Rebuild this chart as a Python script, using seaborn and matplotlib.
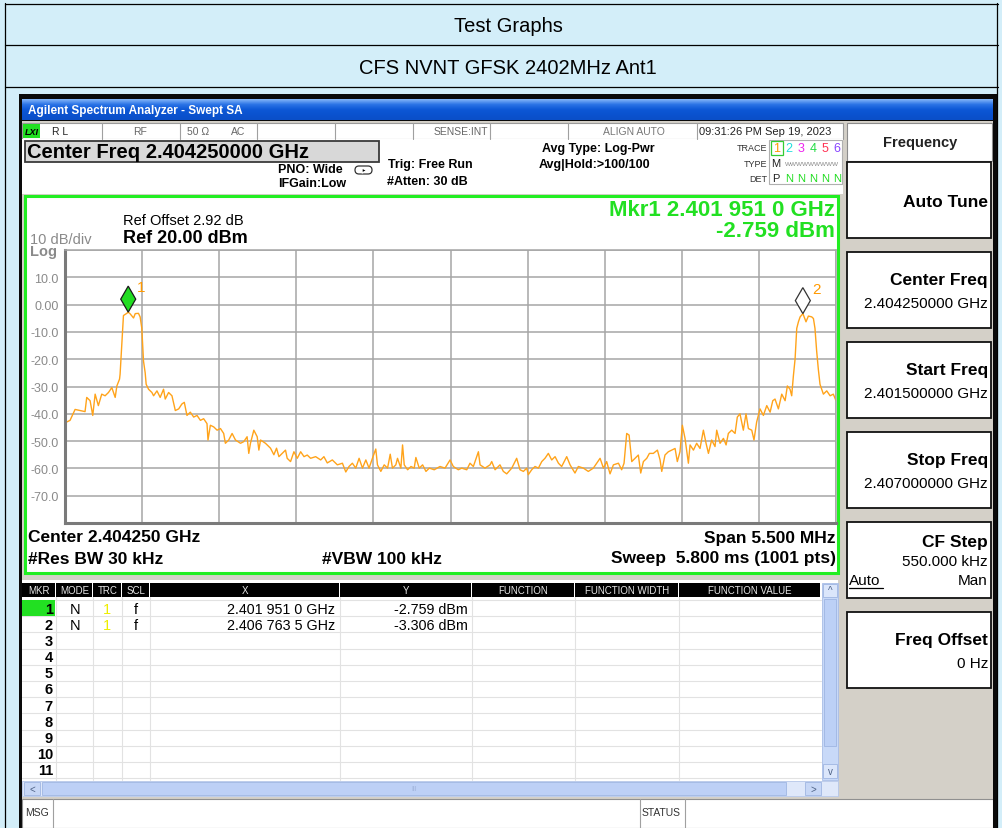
import numpy as np
import matplotlib
matplotlib.use("Agg")
import matplotlib.pyplot as plt
import seaborn as sns
from matplotlib.patches import Rectangle, Polygon, FancyBboxPatch
from matplotlib.colors import LinearSegmentedColormap
from matplotlib.transforms import IdentityTransform

# sweep settings
start_ghz = 2.4015
stop_ghz = 2.407
n_div = 10

# trace 1: offset from start freq (kHz) and level (dBm)
trace_khz = [0, 12, 36, 72, 107, 143, 155, 179, 198, 215, 238, 262, 286, 310, 334, 358, 370, 389,
             393, 405, 417, 441, 451, 465, 489, 501, 524, 536, 548, 560, 572,
             579, 596, 620, 632, 656, 679, 703, 715, 739, 763, 787, 811, 834, 851, 870, 894, 918,
             942, 966, 989, 1013, 1020, 1037, 1061, 1085, 1109, 1132, 1144, 1168, 1192, 1216,
             1252, 1275, 1299, 1311, 1323, 1347, 1371, 1383, 1395, 1430, 1466, 1490, 1509, 1526,
             1550, 1573, 1585, 1609, 1633, 1657, 1681, 1705, 1728, 1752, 1788, 1824, 1847, 1871,
             1907, 1943, 1979, 2003, 2026, 2050, 2074, 2098, 2122, 2146, 2169, 2193, 2217, 2229,
             2253, 2277, 2301, 2320, 2336, 2360, 2372, 2396, 2408, 2420, 2444, 2468, 2491, 2503,
             2527, 2551, 2575, 2599, 2634, 2675, 2711, 2747, 2770, 2806, 2830, 2866, 2889, 2913,
             2949, 2961, 2996, 3032, 3044, 3068, 3103, 3127, 3151, 3187, 3222, 3246, 3270, 3294,
             3305, 3329, 3353, 3377, 3401, 3424, 3448, 3472, 3496, 3520, 3543, 3579, 3603, 3638,
             3662, 3698, 3733, 3769, 3793, 3817, 3841, 3864, 3888, 3912, 3948, 3971, 3988, 4007,
             4024, 4043, 4066, 4090, 4107, 4126, 4150, 4169, 4197, 4226, 4245, 4257, 4280, 4304,
             4328, 4352, 4368, 4387, 4404, 4423, 4447, 4459, 4483, 4506, 4530, 4554, 4573, 4590,
             4613, 4637, 4649, 4673, 4697, 4716, 4732, 4756, 4780, 4796, 4815, 4839, 4858, 4875,
             4899, 4915, 4934, 4958, 4982, 5006, 5030, 5049, 5065, 5089, 5113, 5137, 5153, 5172,
             5184, 5196, 5208, 5220, 5232, 5244, 5264, 5286, 5303, 5327, 5339, 5350, 5362, 5374,
             5386, 5410, 5434, 5458, 5481, 5500]
trace_dbm = [-41.2, -43.0, -42.4, -38.4, -38.8, -39.2, -34.0, -35.2, -40.6, -32.8, -37.0, -32.8, -33.4, -32.2, -30.4, -34.0, -29.8, -27.3,
             -25.5, -15.0, -4.0, -3.2, -2.76, -3.4, -4.9, -3.3, -3.2, -4.5, -8.7, -20.7, -25.0,
             -29.2, -31.0, -32.2, -33.4, -31.6, -34.0, -31.0, -34.6, -32.2, -33.4, -38.8, -38.2, -36.4, -35.8, -40.6, -39.4, -41.2,
             -40.6, -42.4, -41.8, -43.6, -49.6, -44.2, -44.8, -46.0, -45.4, -47.2, -50.8, -49.6, -47.2, -49.6,
             -50.8, -50.2, -48.4, -54.5, -50.8, -46.0, -48.4, -53.3, -49.6, -50.8, -52.6, -55.0, -52.6, -55.7,
             -54.5, -53.3, -56.3, -57.5, -53.9, -56.3, -53.9, -55.7, -55.1, -56.3, -55.7, -56.9, -55.7, -58.0,
             -56.9, -58.7, -58.1, -61.3, -59.3, -58.1, -59.9, -56.3, -59.9, -56.9, -59.9, -56.3, -52.9, -58.7,
             -61.1, -58.7, -59.9, -54.8, -59.9, -58.7, -56.3, -59.9, -51.4, -58.7, -60.5, -59.3, -59.9, -56.0,
             -59.9, -58.7, -61.1, -59.9, -60.5, -59.3, -59.9, -56.9, -59.3, -60.5, -59.9, -60.5, -58.1, -59.3,
             -53.9, -58.7, -59.9, -58.7, -57.5, -60.5, -58.7, -61.1, -62.0, -59.9, -56.3, -60.5, -61.1, -59.9,
             -62.3, -60.5, -59.3, -59.9, -57.5, -56.3, -54.5, -56.9, -55.7, -58.1, -59.3, -55.7, -58.7, -61.7,
             -59.3, -59.9, -61.1, -59.9, -58.1, -56.3, -59.9, -57.5, -62.0, -58.7, -58.1, -60.5, -58.1, -47.2,
             -47.8, -57.5, -56.3, -55.1, -61.7, -57.5, -56.3, -54.5, -54.5, -53.3, -56.9, -61.1, -55.1, -53.9,
             -53.3, -52.7, -57.5, -53.9, -44.2, -49.0, -58.1, -51.4, -53.3, -50.8, -52.7, -46.0, -50.8, -54.5,
             -49.6, -52.0, -46.0, -50.8, -49.0, -51.4, -47.2, -46.0, -47.2, -41.2, -40.0, -46.0, -40.0, -45.4,
             -46.0, -49.6, -43.0, -38.2, -40.6, -37.0, -39.4, -35.2, -34.6, -38.2, -32.8, -35.2, -29.8, -31.0,
             -33.4, -26.1, -20.0, -8.7, -6.3, -4.5, -3.31, -6.3, -4.2, -4.5, -5.1, -8.7, -17.0, -23.7,
             -29.2, -32.8, -31.6, -33.4, -32.8, -35.2]

# markers
mkr_ghz = [2.4019510, 2.4067635]
mkr_dbm = [-2.759, -3.306]
mkr_x_txt = ["2.401 951 0 GHz", "2.406 763 5 GHz"]
mkr_y_txt = ["-2.759 dBm", "-3.306 dBm"]

y_ticks = [-80, -70, -60, -50, -40, -30, -20, -10, 0, 10, 20]
y_labels = ["", "-70.0", "-60.0", "-50.0", "-40.0", "-30.0", "-20.0", "-10.0", "0.00", "10.0", ""]

tbl_cols = ["MKR", "MODE", "TRC", "SCL", "X", "Y", "FUNCTION", "FUNCTION WIDTH", "FUNCTION VALUE"]
soft_keys = [("Auto Tune", ""), ("Center Freq", "2.404250000 GHz"), ("Start Freq", "2.401500000 GHz"),
             ("Stop Freq", "2.407000000 GHz"), ("CF Step", "550.000 kHz"), ("Freq Offset", "0 Hz")]

sns.set_style("white")
plt.rcParams["font.family"] = ["Liberation Sans", "DejaVu Sans"]

W, H = 1003, 829
fig = plt.figure(figsize=(W / 100, H / 100), dpi=100)
ov = fig.add_axes([0, 0, 1, 1])
ov.set_xlim(0, W)
ov.set_ylim(H, 0)
ov.axis("off")


def box(x0, y0, x1, y1, fc="white", ec="none", lw=1.0, z=1):
    ov.add_patch(Rectangle((x0, y0), x1 - x0, y1 - y0, fc=fc, ec=ec, lw=lw, zorder=z))


def t(x, y, s, size=10, ha="left", bold=False, color="black", z=5, **kw):
    ov.text(x, y, s, fontsize=size, ha=ha, va="center", color=color,
            fontweight="bold" if bold else "normal", zorder=z, **kw)


# page with the html table
box(0, 0, W, H, fc="#d3eef9", z=0)
for yy in [4.5, 46, 88]:
    ov.plot([5, 998], [yy, yy], color="black", lw=0.9, zorder=1)
ov.plot([5.5, 5.5], [4, H], color="black", lw=0.9, zorder=1)
ov.plot([997.5, 997.5], [4, H], color="black", lw=0.9, zorder=1)
t(508, 26, "Test Graphs", 14.5, ha="center")
t(508, 68, "CFS NVNT GFSK 2402MHz Ant1", 14.5, ha="center")

# analyzer window
box(19, 95, 997, H, fc="#0a0a0a", z=1)
grad = np.linspace(0, 1, 24).reshape(-1, 1)
tb = LinearSegmentedColormap.from_list("tb", ["#7fb2f7", "#2a73e6", "#0d58d6", "#0a52cf", "#0b4fc8"])
ov.imshow(grad, cmap=tb, extent=(22, 993, 121, 100), aspect="auto", zorder=2)
ov.set_xlim(0, W)
ov.set_ylim(H, 0)
t(28, 111, "Agilent Spectrum Analyzer - Swept SA", 8.5, bold=True, color="white", z=6)
box(22, 122, 993, H, fc="#d4d0c8", z=2)

# status line
box(22, 124, 843, 140, fc="white", ec="#9a9a9a", lw=0.8, z=3)
for xx in [102, 180, 257, 335, 413, 490, 568, 697]:
    ov.plot([xx, xx], [124, 140], color="#a0a0a0", lw=0.8, zorder=4)
box(23, 125, 40, 139, fc="#22e022", z=4)
t(31.5, 132, "LXI", 6.5, ha="center", bold=True, style="italic")
t(52, 132, "R L", 7.5, color="#222222")
t(133, 132, "RF", 7.5, color="#666666")
t(187, 132, "50 \u03a9", 7.5, color="#666666")
t(231, 132, "AC", 7.5, color="#666666")
t(488, 132, "SENSE:INT", 7.5, ha="right", color="#666666")
t(603, 132, "ALIGN AUTO", 7.5, color="#777777")
t(699, 132, "09:31:26 PM Sep 19, 2023", 8, color="#222222")

# setup header
box(22, 140, 843, 195, fc="white", z=3)
box(25, 142, 379, 163, fc="#d8d8d8", ec="#3a3a3a", lw=1.3, z=4)
t(27, 152, "Center Freq 2.404250000 GHz", 14.5, bold=True)
t(278, 170, "PNO: Wide", 9, bold=True)
t(278, 184, "IFGain:Low", 9, bold=True)
ov.add_patch(FancyBboxPatch((355, 167), 17, 8, boxstyle="round,pad=0,rounding_size=4",
                            fc="white", ec="#333333", lw=0.9, zorder=5))
ov.add_patch(Polygon([[362, 169], [367, 171.5], [362, 174]], closed=True, fc="black", zorder=6))
t(388, 165, "Trig: Free Run", 9, bold=True)
t(387, 182, "#Atten: 30 dB", 9, bold=True)
t(542, 149, "Avg Type: Log-Pwr", 9, bold=True)
t(539, 165, "Avg|Hold:>100/100", 9, bold=True)
t(767, 148, "TRACE", 6.5, ha="right", color="#333333")
t(767, 164, "TYPE", 6.5, ha="right", color="#333333")
t(767, 179, "DET", 6.5, ha="right", color="#333333")
box(769.5, 141, 842, 185, fc="white", ec="#b0b0b0", lw=0.8, z=4)
box(771, 141.5, 783, 156, fc="white", ec="#33cc33", lw=0.9, z=5)
trace_cols = ["#ff9900", "#22dddd", "#ee22ee", "#22dd44", "#ff3355", "#8844ff"]
for i, c in enumerate(trace_cols):
    t(777 + i * 12, 149, str(i + 1), 9, ha="center", color=c, z=6)
t(776, 164, "M", 8, ha="center", color="#222222")
t(812, 164.5, "WWWWWWWWW", 4.6, ha="center", color="#888888")
t(776, 179, "P", 8, ha="center", color="#222222")
for i in range(1, 6):
    t(777 + i * 12, 179, "N", 8, ha="center", color="#22dd22")

# graticule frame
box(25.5, 196.5, 838, 573.5, fc="white", ec="#22ee22", lw=2.2, z=3)
t(123, 221, "Ref Offset 2.92 dB", 10.5)
t(123, 238, "Ref 20.00 dBm", 13, bold=True)
t(30, 240, "10 dB/div", 10.5, color="#8a8a8a")
t(30, 252, "Log", 10.5, color="#8a8a8a", bold=True)
t(835, 210, "Mkr1 2.401 951 0 GHz", 16, ha="right", bold=True, color="#22e022")
t(835, 231, "-2.759 dBm", 16, ha="right", bold=True, color="#22e022")
t(28, 538, "Center 2.404250 GHz", 12.5, bold=True)
t(28, 559, "#Res BW 30 kHz", 12.5, bold=True)
t(322, 559, "#VBW 100 kHz", 12.5, bold=True)
t(836, 538, "Span 5.500 MHz", 12.5, ha="right", bold=True)
t(836, 559, "Sweep  5.800 ms (1001 pts)", 12.5, ha="right", bold=True)

# the trace itself
ax = fig.add_axes([65 / W, (H - 524) / H, 771 / W, 273 / H])
trace_ghz = [start_ghz + k / 1e6 for k in trace_khz]
sns.lineplot(x=trace_ghz, y=trace_dbm, ax=ax, color="#ffa31a", lw=1.0)
ax.set_xlim(start_ghz, stop_ghz)
ax.set_ylim(-80, 20)
ax.set_xticks(np.linspace(start_ghz, stop_ghz, n_div + 1))
ax.set_xticklabels([])
ax.set_yticks(y_ticks)
ax.set_yticklabels(y_labels, color="#8a8a8a", fontsize=9)
ax.tick_params(length=0, pad=4.5)
ax.grid(True, color="#a6a6a6", lw=1.1)
ax.set_xlabel("")
ax.set_ylabel("")
for s in ["top", "right"]:
    ax.spines[s].set_color("#a6a6a6")
    ax.spines[s].set_linewidth(1.1)
for s in ["left", "bottom"]:
    ax.spines[s].set_color("#7a7a7a")
    ax.spines[s].set_linewidth(2.2)

# marker diamonds, tip on the peak
mk_fc = ["#22dd22", "white"]
mk_ec = ["#1a1a1a", "#333333"]
for i, (f, lv) in enumerate(zip(mkr_ghz, mkr_dbm)):
    X, Y = ax.transData.transform((f, lv))
    ax.add_patch(Polygon([[X, Y], [X + 7.5, Y + 13], [X, Y + 26], [X - 7.5, Y + 13]], closed=True,
                         fc=mk_fc[i], ec=mk_ec[i], lw=0.9, transform=IdentityTransform(),
                         clip_on=False, zorder=6))
    ax.annotate(str(i + 1), (f, lv), xytext=(9, 25), textcoords="offset pixels", color="#ff9900",
                fontsize=11, ha="left", va="center", annotation_clip=False)

# marker table
box(22, 581, 838, 798, fc="white", z=3)
col_x = [22, 56, 93, 122, 150, 340, 472, 575, 679, 821]
for i, name in enumerate(tbl_cols):
    box(col_x[i] + 0.5, 584, col_x[i + 1] - 0.5, 598, fc="black", z=4)
    t((col_x[i] + col_x[i + 1]) / 2, 591, name, 7, ha="center", color="#e6e6e6")
row_y0, row_h = 601, 16.2
for r in range(12):
    yy = row_y0 + r * row_h
    ov.plot([22, 821], [yy, yy], color="#e2e2e2", lw=0.8, zorder=4)
for xx in col_x[1:-1]:
    ov.plot([xx, xx], [598, 781], color="#e2e2e2", lw=0.8, zorder=4)
box(22, 601, 55, 617, fc="#22e022", z=4)
for r in range(11):
    t(53, row_y0 + r * row_h + 8.5, str(r + 1), 10.5, ha="right", bold=True)
for r in range(2):
    yy = row_y0 + r * row_h + 8.5
    t(75, yy, "N", 10.5, ha="center")
    t(107, yy, "1", 10.5, ha="center", color="#eeee00")
    t(136, yy, "f", 10.5, ha="center")
    t(335, yy, mkr_x_txt[r], 10.3, ha="right")
    t(468, yy, mkr_y_txt[r], 10.3, ha="right")
# scroll bars
box(822, 584, 838, 781, fc="#c8d9f8", ec="#a8bde6", lw=0.6, z=4)
box(823, 585, 837, 598, fc="#dbe6fb", ec="#9fb6e2", lw=0.6, z=5)
box(823, 765, 837, 779, fc="#dbe6fb", ec="#9fb6e2", lw=0.6, z=5)
box(824, 600, 836, 747, fc="#bcd0f6", ec="#9fb6e2", lw=0.6, z=5)
t(830, 591, "^", 7, ha="center", color="#4d6185", z=6)
t(830, 772, "v", 7, ha="center", color="#4d6185", z=6)
box(22, 782, 838, 797, fc="#dfe8fa", ec="#b5c6e8", lw=0.6, z=4)
box(24, 783, 40, 796, fc="#c7d7f6", ec="#9fb6e2", lw=0.6, z=5)
box(42, 783, 786, 796, fc="#bdd0f6", ec="#9fb6e2", lw=0.6, z=5)
box(805, 783, 821, 796, fc="#c7d7f6", ec="#9fb6e2", lw=0.6, z=5)
t(32, 789.5, "<", 7, ha="center", color="#4d6185", z=6)
t(813, 789.5, ">", 7, ha="center", color="#4d6185", z=6)
t(414, 789.5, "III", 5, ha="center", color="#9fb3da", z=6)

# message line
box(22, 800, 993, H, fc="white", ec="#909090", lw=0.8, z=3)
for xx in [53, 640, 685]:
    ov.plot([xx, xx], [800, H], color="#a0a0a0", lw=0.8, zorder=4)
t(25, 813, "MSG", 7.5, color="#333333")
t(642, 813, "STATUS", 7.5, color="#333333")

# softkey panel
box(847, 124, 992, 162, fc="white", ec="#8c8c8c", lw=0.8, z=3)
t(920, 143, "Frequency", 10.5, ha="center", bold=True, color="#222222")
for i, (lab, val) in enumerate(soft_keys):
    y0 = 163 + i * 90
    box(847, y0, 991, y0 + 76, fc="white", ec="#111111", lw=1.3, z=3)
    if lab == "Auto Tune":
        t(988, y0 + 39, lab, 12.5, ha="right", bold=True)
    elif lab == "CF Step":
        t(988, y0 + 20, lab, 12.5, ha="right", bold=True)
        t(988, y0 + 39, val, 11, ha="right")
        t(849, y0 + 58, "Auto", 11)
        ov.plot([849, 883], [y0 + 66, y0 + 66], color="black", lw=0.9, zorder=5)
        t(988, y0 + 58, "Man", 11, ha="right")
    else:
        t(988, y0 + 27, lab, 12.5, ha="right", bold=True)
        t(988, y0 + 51, val, 11, ha="right")
box(993, 95, 997, H, fc="#0a0a0a", z=4)

fig.savefig("out.png", dpi=100)
